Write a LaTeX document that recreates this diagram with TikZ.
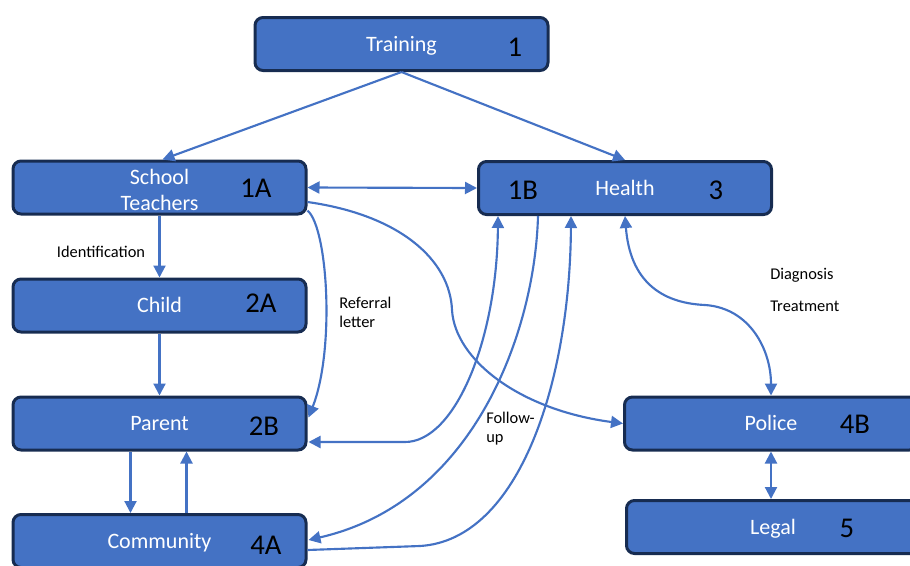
\documentclass[tikz,border=0pt]{standalone}
\usepackage{fontspec}
\setmainfont{Carlito}
\usetikzlibrary{arrows.meta,calc}
\definecolor{boxfill}{HTML}{4472C4}
\definecolor{boxline}{HTML}{172C51}
\definecolor{arrowc}{HTML}{4472C4}
\begin{document}
\begin{tikzpicture}[x=0.75pt,y=-0.75pt,
  box/.style={draw=boxline, line width=2.25pt, fill=boxfill, rounded corners=6pt,
    minimum width=219.75pt, minimum height=39.75pt, text=white,
    font=\fontsize{16.5}{19.5}\selectfont, align=center, inner sep=0pt},
  oneline/.style={text height=13pt, text depth=1.8pt},
  num/.style={font=\fontsize{21.5}{24}\selectfont, text=black, inner sep=0pt},
  lbl/.style={font=\fontsize{12.3}{14.5}\selectfont, text=black, inner sep=0pt, align=left},
  conn/.style={draw=arrowc, line width=1.6pt},
  tipend/.style={-{Triangle[length=9pt,width=9pt]}},
  tipboth/.style={{Triangle[length=9pt,width=9pt]}-{Triangle[length=9pt,width=9pt]}}
]
\useasboundingbox (0,0) rectangle (910,565);
\clip (0,0) rectangle (910,565);

% boxes
\node[box,oneline] (tr) at (401.5,44) {Training};
\node[box] (st) at (159.5,187.5) {\rule{0pt}{15pt}School\\Teachers};
\node[box,oneline] (h) at (625,188) {Health};
\node[box,oneline] (child) at (159.5,305.5) {Child};
\node[box,oneline] (parent) at (159.5,423.5) {Parent};
\node[box,oneline] (comm) at (159.5,541) {Community};
\node[box,oneline] (police) at (771,423.5) {Police};
\node[box,oneline] (legal) at (773,527) {Legal};

% numbers
\node[num] (n1) at (515,47) {1};
\node[num] (n1a) at (256,188) {1A};
\node[num] (n1b) at (523,190) {1B};
\node[num] (n3) at (716,190) {3};
\node[num] (n2a) at (261,303) {2A};
\node[num] (n2b) at (264,426) {2B};
\node[num] (n4a) at (266,545) {4A};
\node[num] (n4b) at (855,424) {4B};
\node[num] (n5) at (847,528) {5};

% labels
\node[lbl] (lid) at (101,252) {Identification};
\node[lbl, anchor=west] (lref) at (339,312.5) {Referral\\letter};
\node[lbl, anchor=west] (lfol) at (486,428.5) {Follow-\\up};
\node[lbl, anchor=west] (ldia) at (770,275) {Diagnosis};
\node[lbl, anchor=west] (ltre) at (770,306) {Treatment};

% connectors
\draw[conn,tipend] (tr.south) -- ($(st.north west)+(151,0)$);
\draw[conn,tipend] (tr.south) -- (h.north);
\draw[conn,tipboth] (st.east) -- (h.west);
\draw[conn,tipend] (st.south) -- (child.north);
\draw[conn,tipend] (child.south) -- (parent.north);
\draw[conn,tipend] ($(parent.south west)+(119,0)$) -- ($(comm.north west)+(119,0)$);
\draw[conn,tipend] ($(comm.north west)+(175,0)$) -- ($(parent.south west)+(175,0)$);

% referral letter
\draw[conn,tipend] ($(st.south east)+(0,-5)$) .. controls (328,228) and (335,350) .. ($(parent.north east)+(1,22)$);
% school teachers -> police
\draw[conn,tipend] ($(st.east)+(0,14.5)$) .. controls (400,215) and (450,260) .. (452,310)
  .. controls (455,360) and (520,410) .. (police.west);
% parent <-> 1B
\draw[conn,tipboth] ($(parent.east)+(1,18.5)$) -- (405,442) .. controls (455,442) and (497,340) .. ($(h.south west)+(21,0)$);
% health -> community
\draw[conn,tipend] ($(h.south west)+(61,0)$) .. controls (535,330) and (475,502) .. ($(comm.east)+(1,-1)$);
% community -> health
\draw[conn,tipend] ($(comm.east)+(0,9)$) -- (420,546) .. controls (520,540) and (570,380) .. ($(h.south west)+(94,0)$);
% health <-> police
\draw[conn,tipboth] (h.south) .. controls (630,280) and (660,303) .. (705,305)
  .. controls (750,308) and (771,350) .. (police.north);
% police <-> legal
\draw[conn,tipboth] (police.south) -- (police.south |- legal.north);
\end{tikzpicture}
\end{document}
